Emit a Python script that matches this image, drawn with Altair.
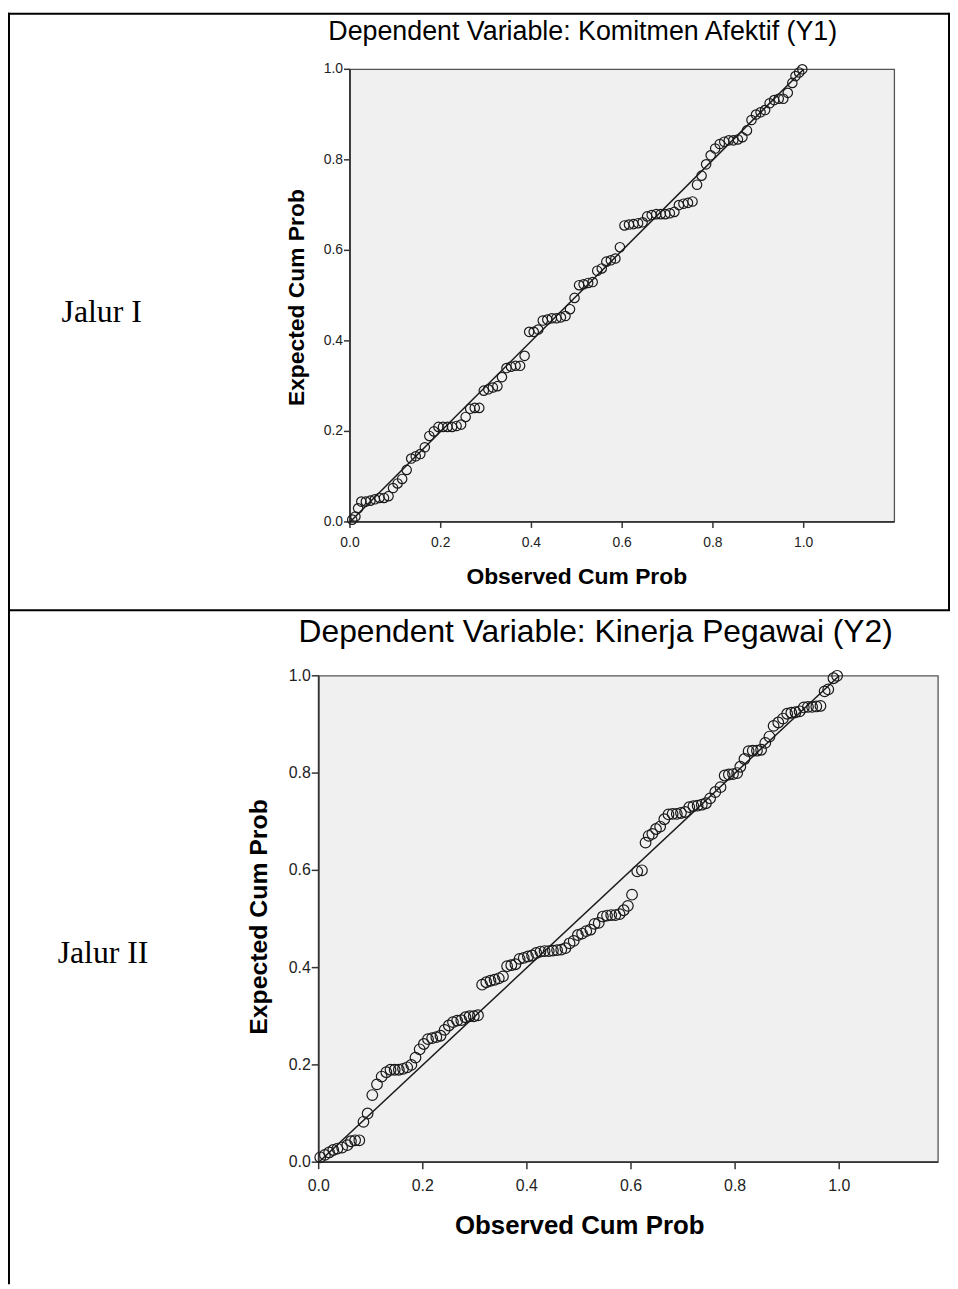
import altair as alt
import pandas as pd

# ---- data (Normal P-P plots) ----
obs1 = [0.005, 0.012, 0.018, 0.025, 0.035, 0.045, 0.055, 0.065, 0.075, 0.085,
        0.095, 0.105, 0.115, 0.125, 0.135, 0.145, 0.155, 0.165, 0.175, 0.185,
        0.195, 0.205, 0.215, 0.225, 0.235, 0.245, 0.255, 0.265, 0.275, 0.285,
        0.295, 0.305, 0.315, 0.325, 0.335, 0.345, 0.355, 0.365, 0.375, 0.385,
        0.395, 0.405, 0.415, 0.425, 0.435, 0.445, 0.455, 0.465, 0.475, 0.485,
        0.495, 0.505, 0.515, 0.525, 0.535, 0.545, 0.555, 0.565, 0.575, 0.585,
        0.595, 0.605, 0.615, 0.625, 0.635, 0.645, 0.655, 0.665, 0.675, 0.685,
        0.695, 0.705, 0.715, 0.725, 0.735, 0.745, 0.755, 0.765, 0.775, 0.785,
        0.795, 0.805, 0.815, 0.825, 0.835, 0.845, 0.855, 0.865, 0.875, 0.885,
        0.895, 0.905, 0.915, 0.925, 0.935, 0.945, 0.955, 0.965, 0.975, 0.982,
        0.990, 0.997]
exp1 = [0.005, 0.012, 0.030, 0.045, 0.045, 0.047, 0.050, 0.053, 0.053, 0.057,
        0.075, 0.085, 0.095, 0.115, 0.140, 0.145, 0.150, 0.165, 0.190, 0.200,
        0.210, 0.210, 0.210, 0.210, 0.212, 0.215, 0.232, 0.250, 0.252, 0.252,
        0.290, 0.293, 0.297, 0.300, 0.320, 0.340, 0.343, 0.345, 0.345, 0.367,
        0.420, 0.420, 0.425, 0.445, 0.447, 0.450, 0.450, 0.452, 0.455, 0.470,
        0.495, 0.523, 0.525, 0.528, 0.530, 0.555, 0.560, 0.575, 0.578, 0.582,
        0.607, 0.655, 0.657, 0.658, 0.660, 0.662, 0.675, 0.678, 0.680, 0.680,
        0.680, 0.682, 0.685, 0.700, 0.703, 0.705, 0.708, 0.745, 0.765, 0.790,
        0.810, 0.825, 0.835, 0.840, 0.843, 0.843, 0.845, 0.850, 0.865, 0.888,
        0.900, 0.905, 0.910, 0.925, 0.932, 0.935, 0.935, 0.948, 0.970, 0.985,
        0.993, 1.000]

obs2 = [0.003, 0.012, 0.020, 0.028, 0.036, 0.045, 0.055, 0.062, 0.070, 0.078,
        0.086, 0.094, 0.103, 0.112, 0.121, 0.130, 0.138, 0.146, 0.154, 0.162,
        0.170, 0.178, 0.186, 0.194, 0.202, 0.210, 0.218, 0.226, 0.234, 0.242,
        0.250, 0.258, 0.266, 0.274, 0.282, 0.290, 0.298, 0.306, 0.314, 0.322,
        0.330, 0.338, 0.346, 0.354, 0.362, 0.370, 0.378, 0.386, 0.394, 0.402,
        0.410, 0.418, 0.426, 0.434, 0.442, 0.450, 0.458, 0.466, 0.474, 0.482,
        0.490, 0.498, 0.506, 0.514, 0.522, 0.530, 0.538, 0.546, 0.554, 0.562,
        0.570, 0.578, 0.586, 0.594, 0.602, 0.612, 0.621, 0.628, 0.634, 0.641,
        0.648, 0.656, 0.664, 0.672, 0.680, 0.688, 0.696, 0.704, 0.712, 0.720,
        0.728, 0.736, 0.744, 0.752, 0.762, 0.772, 0.780, 0.788, 0.796, 0.804,
        0.810, 0.818, 0.826, 0.834, 0.842, 0.850, 0.858, 0.866, 0.874, 0.883,
        0.892, 0.900, 0.908, 0.916, 0.924, 0.932, 0.940, 0.948, 0.956, 0.964,
        0.972, 0.979, 0.989, 0.996]
exp2 = [0.010, 0.015, 0.020, 0.025, 0.028, 0.030, 0.035, 0.043, 0.045, 0.045,
        0.083, 0.100, 0.138, 0.160, 0.176, 0.185, 0.190, 0.190, 0.190, 0.192,
        0.195, 0.200, 0.215, 0.232, 0.243, 0.253, 0.255, 0.257, 0.260, 0.272,
        0.281, 0.288, 0.291, 0.292, 0.298, 0.300, 0.300, 0.302, 0.365, 0.370,
        0.373, 0.375, 0.378, 0.382, 0.403, 0.405, 0.407, 0.418, 0.420, 0.423,
        0.425, 0.430, 0.433, 0.434, 0.434, 0.435, 0.436, 0.437, 0.440, 0.450,
        0.455, 0.467, 0.470, 0.475, 0.478, 0.490, 0.492, 0.505, 0.507, 0.508,
        0.508, 0.510, 0.518, 0.527, 0.550, 0.598, 0.600, 0.657, 0.671, 0.675,
        0.685, 0.690, 0.705, 0.715, 0.716, 0.716, 0.718, 0.720, 0.730, 0.732,
        0.733, 0.735, 0.738, 0.748, 0.761, 0.771, 0.795, 0.797, 0.798, 0.800,
        0.813, 0.829, 0.845, 0.846, 0.846, 0.848, 0.862, 0.875, 0.897, 0.904,
        0.912, 0.922, 0.924, 0.925, 0.927, 0.935, 0.936, 0.936, 0.937, 0.938,
        0.968, 0.972, 0.995, 1.000]

diag = [0.0, 1.0]
tick_values = [0.0, 0.2, 0.4, 0.6, 0.8, 1.0]
x_domain1 = [0.0, 1.2]
x_domain2 = [0.0, 1.19]
y_domain = [0.0, 1.0]

title1 = "Dependent Variable: Komitmen Afektif (Y1)"
title2 = "Dependent Variable: Kinerja Pegawai (Y2)"
x_title = "Observed Cum Prob"
y_title = "Expected Cum Prob"
row_labels = ["Jalur I", "Jalur II"]

W, H = 949, 1281
SANS = "Liberation Sans, Arial, sans-serif"
SERIF = "Liberation Serif, Times New Roman, serif"
INK = "#1a1a1a"


def text(label, x, y, size, font, weight="normal", align="center", angle=0):
    return alt.Chart(pd.DataFrame({"t": [label]})).mark_text(
        font=font, fontSize=size, fontWeight=weight, align=align, angle=angle,
        baseline="middle", color="#000").encode(
        text="t:N", x=alt.value(x), y=alt.value(y))


def panel(obs, exp, x_domain, xr, yr, tick_fs, xtitle_fs, ytitle_fs, xt, yt,
          pt_size, tick_len, label_gap):
    xs = alt.Scale(domain=x_domain, range=xr, nice=False, zero=False)
    ys = alt.Scale(domain=y_domain, range=yr, nice=False, zero=False)
    X = lambda f: alt.X(f, scale=xs, axis=None)
    Y = lambda f: alt.Y(f, scale=ys, axis=None)

    frame_df = pd.DataFrame({"x0": [x_domain[0]], "x1": [x_domain[1]],
                             "y0": [y_domain[0]], "y1": [y_domain[1]]})
    bg = alt.Chart(frame_df).mark_rect(fill="#f0f0f0", stroke="#555", strokeWidth=1.3).encode(
        x=X("x0:Q"), x2="x1:Q", y=Y("y0:Q"), y2="y1:Q")
    xline = alt.Chart(frame_df).mark_rule(color="#333", strokeWidth=1.8).encode(
        x=X("x0:Q"), x2="x1:Q", y=Y("y0:Q"))
    yline = alt.Chart(frame_df).mark_rule(color="#333", strokeWidth=1.8).encode(
        x=X("x0:Q"), y=Y("y0:Q"), y2="y1:Q")

    tdf = pd.DataFrame({"v": tick_values})
    xticks = alt.Chart(tdf).mark_rule(color="#333", strokeWidth=1.5).encode(
        x=X("v:Q"), y=alt.value(yr[0]), y2=alt.value(yr[0] + tick_len))
    xlabels = alt.Chart(tdf).mark_text(font=SANS, fontSize=tick_fs, color="#222",
                                       baseline="top", align="center").encode(
        x=X("v:Q"), y=alt.value(yr[0] + label_gap),
        text=alt.Text("v:Q", format=".1f"))
    yticks = alt.Chart(tdf).mark_rule(color="#333", strokeWidth=1.5).encode(
        y=Y("v:Q"), x=alt.value(xr[0] - tick_len), x2=alt.value(xr[0]))
    ylabels = alt.Chart(tdf).mark_text(font=SANS, fontSize=tick_fs, color="#222",
                                       baseline="middle", align="right").encode(
        y=Y("v:Q"), x=alt.value(xr[0] - tick_len - 1),
        text=alt.Text("v:Q", format=".1f"))

    line = alt.Chart(pd.DataFrame({"d": diag})).mark_line(color=INK, strokeWidth=1.5).encode(
        x=X("d:Q"), y=Y("d:Q"))
    pts = alt.Chart(pd.DataFrame({"obs": obs, "exp": exp})).mark_point(
        shape="circle", filled=False, stroke=INK, strokeWidth=1.2,
        size=pt_size, opacity=1).encode(x=X("obs:Q"), y=Y("exp:Q"))

    xtitle = text(x_title, xt[0], xt[1], xtitle_fs, SANS, weight="bold")
    ytitle = text(y_title, yt[0], yt[1], ytitle_fs, SANS, weight="bold", angle=270)
    return [bg, xline, yline, xticks, xlabels, yticks, ylabels, line, pts, xtitle, ytitle]


# pixel ranges of the two plot frames (chart coordinates)
p1 = panel(obs1, exp1, x_domain1, [344.5, 893], [513, 57], 14, 23, 23,
           (573, 569), (291, 287), 90, 6, 14)
p2 = panel(obs2, exp2, x_domain2, [313, 937], [1158, 668], 16, 26, 25,
           (576, 1222), (253, 911), 115, 7, 16)


def rule(x, x2, y, y2):
    return alt.Chart(pd.DataFrame({"k": [0]})).mark_rule(color="#000", strokeWidth=2).encode(
        x=alt.value(x), x2=alt.value(x2), y=alt.value(y), y2=alt.value(y2))


deco = [
    rule(1, 1, 0, H),
    rule(0, 948, 1, 1),
    rule(948, 948, 0, 602),
    rule(0, 949, 602, 602),
    text(title1, 579, 19, 27, SANS),
    text(title2, 592, 624, 32, SANS),
    text(row_labels[0], 54, 302, 32, SERIF, align="left"),
    text(row_labels[1], 50, 947, 32, SERIF, align="left"),
]

chart = alt.layer(*p1, *p2, *deco).resolve_scale(x="independent", y="independent").properties(
    width=W, height=H, padding=0,
    autosize=alt.AutoSizeParams(type="none"),
).configure_view(stroke=None)

chart.save("out.html", embed_options={"renderer": "svg", "actions": False})
